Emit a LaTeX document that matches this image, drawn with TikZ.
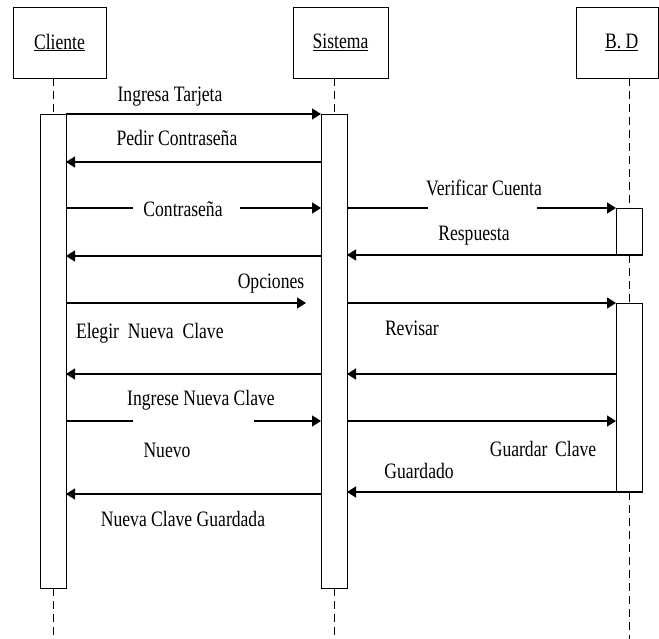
\documentclass[tikz,border=0pt]{standalone}
\usepackage{fontspec}
\setmainfont{Liberation Serif}[FakeStretch=0.8]
\usetikzlibrary{arrows.meta}
\begin{document}
\begin{tikzpicture}[x=1pt,y=-1pt,
  every node/.style={inner sep=0pt, outer sep=0pt},
  headbox/.style={draw, line width=0.9pt, minimum height=71pt,
    font=\fontsize{22}{22}\selectfont},
  actbox/.style={draw, fill=white, line width=0.9pt, minimum width=26pt, anchor=north},
  lifeline/.style={line width=0.8pt, dash pattern=on 8pt off 5pt},
  msg/.style={line width=1.3pt, -{Triangle[length=9pt,width=11pt]}},
  seg/.style={line width=1.3pt},
  lbl/.style={font=\fontsize{22}{22}\selectfont, anchor=base},
]
\useasboundingbox (0,0) rectangle (659,639);

% participants
\node[headbox, minimum width=93pt] (clihead) at (59.5,42.5) {\underline{Cliente}};
\node[headbox, minimum width=95pt] (sishead) at (340.5,42.5) {\underline{Sistema}};
\node[headbox, minimum width=82.5pt] (bdhead) at (617.25,42.5) {\hspace*{9pt}\underline{B. D}};

% activation bars
\node[actbox, minimum height=474pt] (cliact) at (53,114) {};
\node[actbox, minimum height=474pt] (sisact) at (334,114) {};
\node[actbox, minimum height=47pt] (bdactA) at (629,208) {};
\node[actbox, minimum height=189pt] (bdactB) at (629,303) {};

% lifelines
\coordinate (floor) at (0,639);
\draw[lifeline] (clihead.south -| cliact.north) -- (cliact.north);
\draw[lifeline] (cliact.south) -- (cliact.south |- floor);
\draw[lifeline] (sishead.south -| sisact.north) -- (sisact.north);
\draw[lifeline] (sisact.south) -- (sisact.south |- floor);
\draw[lifeline] (bdhead.south -| bdactA.north) -- (bdactA.north);
\draw[lifeline] (bdactA.south) -- (bdactB.north);
\draw[lifeline] (bdactB.south) -- (bdactB.south |- floor);

% message rows
\coordinate (r2) at (0,162);
\coordinate (r3) at (0,208);
\coordinate (r4) at (0,256);
\coordinate (r5) at (0,303);
\coordinate (r6) at (0,374);
\coordinate (r7) at (0,421);
\coordinate (r9) at (0,494);
\coordinate (c3a) at (133,208);
\coordinate (c3b) at (240,208);
\coordinate (v3a) at (428,208);
\coordinate (v3b) at (537,208);
\coordinate (opc) at (306,303);
\coordinate (i7a) at (133,421);
\coordinate (i7b) at (254,421);

% messages
\draw[msg] (cliact.north east) -- (sisact.north west);
\draw[msg] (sisact.west |- r2) -- (cliact.east |- r2);
\draw[seg] (cliact.east |- r3) -- (c3a);
\draw[msg] (c3b) -- (sisact.west |- r3);
\draw[seg] (sisact.east |- r3) -- (v3a);
\draw[msg] (v3b) -- (bdactA.north west);
\draw[msg] (sisact.west |- r4) -- (cliact.east |- r4);
\draw[msg] (bdactA.south east) -- (sisact.east |- bdactA.south);
\draw[msg] (cliact.east |- r5) -- (opc);
\draw[msg] (sisact.east |- r5) -- (bdactB.north west);
\draw[msg] (sisact.west |- r6) -- (cliact.east |- r6);
\draw[msg] (bdactB.west |- r6) -- (sisact.east |- r6);
\draw[seg] (cliact.east |- r7) -- (i7a);
\draw[msg] (i7b) -- (sisact.west |- r7);
\draw[msg] (sisact.east |- r7) -- (bdactB.west |- r7);
\draw[msg] (bdactB.south east) -- (sisact.east |- bdactB.south);
\draw[msg] (sisact.west |- r9) -- (cliact.east |- r9);

% labels
\node[lbl] (l1) at (170,102) {Ingresa Tarjeta};
\node[lbl] (l2) at (177,146) {Pedir Contraseña};
\node[lbl] (l3) at (183,217) {Contraseña};
\node[lbl] (l4) at (484,196) {Verificar Cuenta};
\node[lbl] (l5) at (474,241) {Respuesta};
\node[lbl] (l6) at (271,289) {Opciones};
\node[lbl, anchor=base west] (l7) at (76,338) {Elegir\hspace{0.4em}Nueva\hspace{0.4em}Clave};
\node[lbl, anchor=base west] (l8) at (385,335) {Revisar};
\node[lbl] (l9) at (201,405) {Ingrese Nueva Clave};
\node[lbl] (l10) at (167,457) {Nuevo};
\node[lbl] (l11) at (543,456) {Guardar\hspace{0.35em}Clave};
\node[lbl] (l12) at (419,478) {Guardado};
\node[lbl] (l13) at (183,526) {Nueva Clave Guardada};
\end{tikzpicture}
\end{document}
